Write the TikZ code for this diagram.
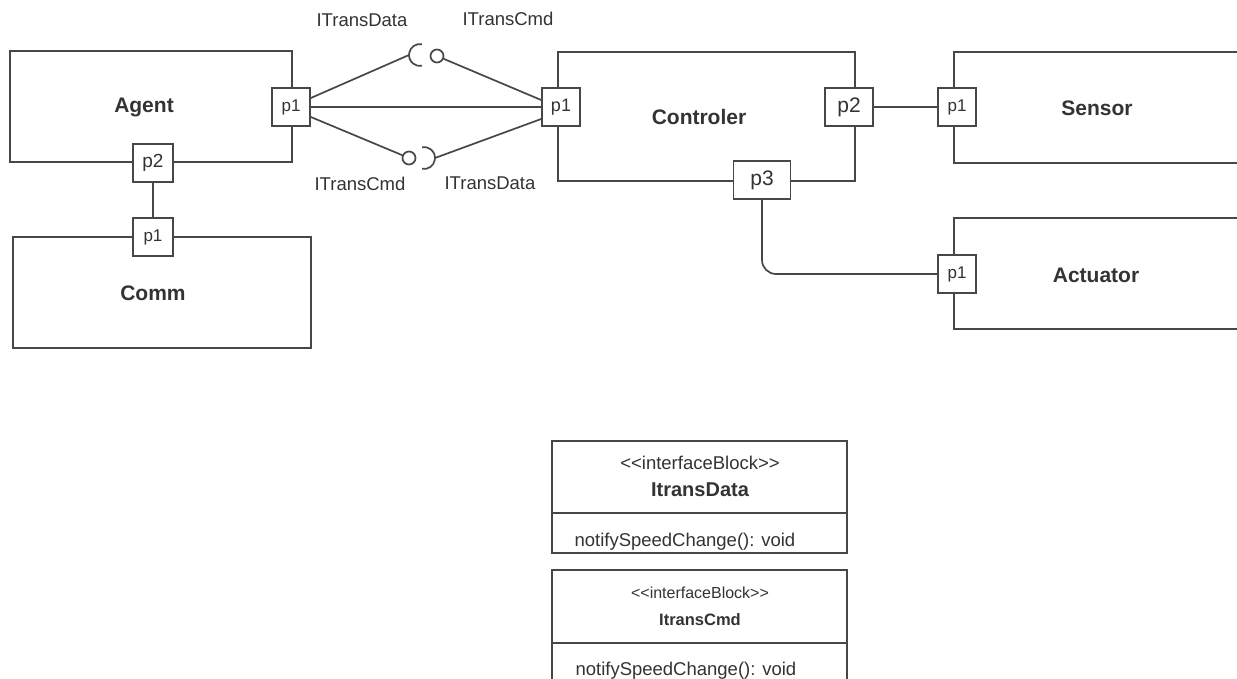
\documentclass[tikz,border=0pt]{standalone}
\usepackage{fontspec}
\setmainfont{Liberation Sans}
\usetikzlibrary{calc}
\definecolor{lncol}{HTML}{474747}
\definecolor{txcol}{HTML}{333333}
\newcommand{\fsz}[1]{\fontsize{#1}{#1}\selectfont}
\begin{document}
\begin{tikzpicture}[x=1pt,y=-1pt,
  conn/.style={draw=lncol, line width=1.7pt},
  blk/.style={draw=lncol, line width=1.7pt, inner sep=0pt},
  port/.style={draw=lncol, fill=white, line width=1.7pt, minimum width=38pt, minimum height=38pt, inner sep=0pt, text=txcol, font=\fsz{17}},
  title/.style={text=txcol, font=\bfseries\fsz{21}},
  lbl/.style={text=txcol, font=\fsz{18.5}},
  ball/.style={circle, draw=lncol, line width=1.7pt, fill=white, minimum size=13pt, inner sep=0pt}]
\clip (0,0) rectangle (1237,679);
\fill[white] (0,0) rectangle (1237,679);

% blocks
\node[blk, minimum width=282pt, minimum height=111pt] (agent) at (151,106.5) {};
\node[blk, minimum width=298pt, minimum height=111pt] (comm) at (162,292.5) {};
\node[blk, minimum width=297pt, minimum height=129pt] (ctrl) at (706.5,116.5) {};
\node[blk, minimum width=346pt, minimum height=111pt] (sensor) at (1127,107.5) {};
\node[blk, minimum width=346pt, minimum height=111pt] (actuator) at (1127,273.5) {};

\node[title] (agentlbl) at (144,108) {Agent};
\node[title] (commlbl) at (153,293) {Comm};
\node[title] (ctrllbl) at (699,117) {Controler};
\node[title] (sensorlbl) at (1097,108) {Sensor};
\node[title] (actlbl) at (1096,275) {Actuator};

% ports
\node[port] (ap1) at (291,107) {p1};
\node[port, minimum width=40pt, font=\fsz{19}] (ap2) at (153,163) {p2};
\node[port, minimum width=40pt] (cmp1) at (153,237) {p1};
\node[port, font=\fsz{18}] (cp1) at (561,107) {p1};
\node[port, minimum width=48pt, font=\fsz{21}] (cp2) at (849,107) {p2};
\node[port, minimum width=57pt, font=\fsz{21}] (cp3) at (762,180) {p3};
\node[port] (sp1) at (957,107) {p1};
\node[port] (acp1) at (957,274) {p1};

% connectors
\draw[conn] (ap2.south) -- (cmp1.north);
\draw[conn] (ap1.east) -- (cp1.west);
\draw[conn] (cp2.east) -- (sp1.west);
\draw[conn, rounded corners=14pt] (cp3.south) |- (acp1.west);

% upper ball and socket
\coordinate (s1) at (420,55);
\draw[conn] ([shift={(80:11pt)}]s1) arc[start angle=80, end angle=280, radius=11pt];
\draw[conn] ([yshift=9pt]ap1.east) -- ([xshift=-11pt]s1);
\node[ball] (b1) at (437,56) {};
\draw[conn] (b1) -- ([yshift=7pt]cp1.west);

% lower ball and socket
\node[ball] (b2) at (409,158) {};
\draw[conn] ([yshift=-10pt]ap1.east) -- (b2);
\coordinate (s2) at (424,158);
\draw[conn] ([shift={(-100:11pt)}]s2) arc[start angle=-100, end angle=100, radius=11pt];
\draw[conn] ([xshift=11pt]s2) -- ([yshift=-12pt]cp1.west);

\node[lbl] (l1) at (362,20) {ITransData};
\node[lbl] (l2) at (508,19) {ITransCmd};
\node[lbl] (l3) at (360,184) {ITransCmd};
\node[lbl] (l4) at (490,183) {ITransData};

% interface blocks
\node[blk, minimum width=295pt, minimum height=112pt] (ib1) at (699.5,497) {};
\draw[conn] (ib1.west |- 0,513) -- (ib1.east |- 0,513);
\node[text=txcol, font=\fsz{18.5}] (ib1s) at (700,463) {{<}{<}interfaceBlock{>}{>}};
\node[text=txcol, font=\bfseries\fsz{20}] (ib1n) at (700,490) {ItransData};
\node[text=txcol, font=\fsz{18.5}, anchor=west] (ib1o) at (571,542) {notifySpeedChange(): void};

\node[blk, minimum width=295pt, minimum height=130pt] (ib2) at (699.5,635) {};
\draw[conn] (ib2.west |- 0,643) -- (ib2.east |- 0,643);
\node[text=txcol, font=\fsz{16}] (ib2s) at (700,593) {{<}{<}interfaceBlock{>}{>}};
\node[text=txcol, font=\bfseries\fsz{16.5}] (ib2n) at (700,620) {ItransCmd};
\node[text=txcol, font=\fsz{18.5}, anchor=west] (ib2o) at (572,671) {notifySpeedChange(): void};
\end{tikzpicture}
\end{document}
